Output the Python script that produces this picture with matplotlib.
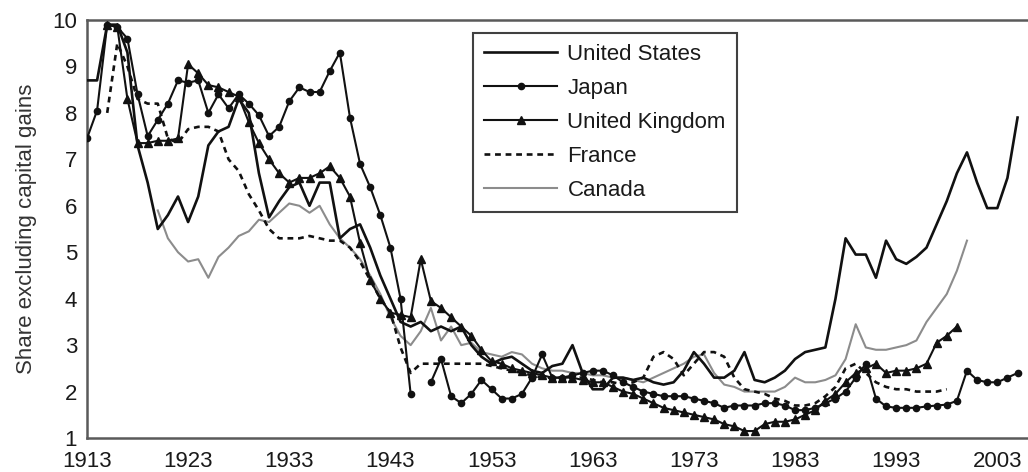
import numpy as np
import matplotlib
matplotlib.use("Agg")
import matplotlib.pyplot as plt

plt.rcParams['font.family'] = ['Liberation Sans', 'DejaVu Sans']

nan = np.nan

# ---- data (top 0.1% income share, %) ----
us_years = np.arange(1913, 2006)
us_vals = [8.7, 8.7, 9.9, 9.9, 9.3, 7.3, 6.5, 5.5, 5.8, 6.2,
           5.65, 6.2, 7.3, 7.6, 7.7, 8.3, 8.0, 6.7, 5.75, 6.1,
           6.4, 6.5, 6.0, 6.5, 6.5, 5.3, 5.5, 5.6, 5.1, 4.5,
           4.0, 3.5, 3.4, 3.5, 3.3, 3.4, 3.3, 3.4, 3.0, 2.75,
           2.6, 2.7, 2.75, 2.6, 2.45, 2.4, 2.55, 2.6, 3.0, 2.4,
           2.05, 2.05, 2.3, 2.3, 2.25, 2.3, 2.2, 2.15, 2.2, 2.45,
           2.85, 2.6, 2.3, 2.3, 2.45, 2.85, 2.25, 2.2, 2.3, 2.45,
           2.7, 2.85, 2.9, 2.95, 4.0, 5.3, 4.95, 4.95, 4.45, 5.25,
           4.85, 4.75, 4.9, 5.1, 5.6, 6.1, 6.7, 7.15, 6.5, 5.95,
           5.95, 6.6, 7.9]

japan_years = np.arange(1913, 2006)
japan_vals = [7.45, 8.05, 9.9, 9.85, 9.6, 8.4, 7.5, 7.85, 8.2, 8.7,
              8.65, 8.7, 8.0, 8.4, 8.1, 8.4, 8.2, 7.95, 7.5, 7.7,
              8.25, 8.55, 8.45, 8.45, 8.9, 9.3, 7.9, 6.9, 6.4, 5.8,
              5.1, 4.0, 1.95, nan, 2.2, 2.7, 1.9, 1.75, 1.95, 2.25,
              2.05, 1.85, 1.85, 1.95, 2.3, 2.8, 2.3, 2.3, 2.35, 2.4,
              2.45, 2.45, 2.35, 2.2, 2.1, 2.0, 1.95, 1.9, 1.9, 1.9,
              1.85, 1.8, 1.75, 1.65, 1.7, 1.7, 1.7, 1.75, 1.75, 1.7,
              1.6, 1.6, 1.65, 1.75, 1.85, 2.0, 2.3, 2.6, 1.85, 1.68,
              1.65, 1.65, 1.65, 1.68, 1.7, 1.72, 1.8, 2.45, 2.25, 2.2,
              2.2, 2.3, 2.4]

uk_years = np.arange(1915, 2000)
uk_vals = [9.9, 9.85, 8.3, 7.35, 7.35, 7.4, 7.4, 7.45,
           9.05, 8.85, 8.6, 8.55, 8.45, 8.35, 7.8, 7.35, 7.0, 6.7,
           6.5, 6.6, 6.6, 6.7, 6.85, 6.6, 6.2, 5.2, 4.4, 4.0,
           3.7, 3.65, 3.6, 4.85, 3.95, 3.8, 3.6, 3.4, 3.2, 2.9,
           2.65, 2.6, 2.5, 2.45, 2.4, 2.35, 2.3, 2.3, 2.3, 2.25,
           2.2, 2.2, 2.1, 2.0, 1.95, 1.85, 1.75, 1.65, 1.6, 1.55,
           1.5, 1.45, 1.4, 1.3, 1.25, 1.15, 1.15, 1.3, 1.35, 1.35,
           1.4, 1.5, 1.6, 1.8, 1.95, 2.2, 2.4, 2.5, 2.6, 2.4,
           2.45, 2.45, 2.5, 2.6, 3.05, 3.2, 3.4]

france_years = np.arange(1915, 1999)
france_vals = [8.0, 9.5, 9.0, 8.3, 8.2, 8.2, 7.45, 7.35,
               7.65, 7.7, 7.7, 7.6, 7.0, 6.75, 6.25, 5.9, 5.5, 5.3,
               5.3, 5.3, 5.35, 5.3, 5.25, 5.25, 5.1, 4.8, 4.4, 4.0,
               3.7, 2.95, 2.4, 2.6, 2.6, 2.6, 2.6, 2.6, 2.6, 2.6,
               2.55, 2.5, 2.45, 2.4, 2.35, 2.3, 2.3, 2.3, 2.3, 2.3,
               2.25, 2.2, 2.2, 2.15, 2.2, 2.3, 2.75, 2.85, 2.7, 2.35,
               2.6, 2.85, 2.85, 2.75, 2.3, 2.05, 2.0, 1.95, 1.85, 1.8,
               1.7, 1.7, 1.75, 1.9, 2.1, 2.5, 2.6, 2.4, 2.2, 2.1,
               2.05, 2.05, 2.0, 2.0, 2.0, 2.05]

canada_years = np.arange(1920, 2001)
canada_vals = [5.9, 5.3, 5.0,
               4.8, 4.85, 4.45, 4.9, 5.1, 5.35, 5.45, 5.7, 5.65, 5.85,
               6.05, 6.0, 5.85, 6.0, 5.6, 5.3, 5.1, 4.85, 4.5, 4.1,
               3.6, 3.2, 3.0, 3.3, 3.8, 3.1, 3.4, 3.0, 3.05, 2.85,
               2.8, 2.75, 2.85, 2.8, 2.6, 2.5, 2.45, 2.45, 2.4, 2.4,
               2.35, 2.35, 2.3, 2.3, 2.25, 2.2, 2.3, 2.4, 2.5, 2.6,
               2.75, 2.8, 2.4, 2.15, 2.1, 2.0, 2.0, 2.0, 2.0, 2.1,
               2.3, 2.2, 2.2, 2.25, 2.35, 2.7, 3.45, 2.95, 2.9, 2.9,
               2.95, 3.0, 3.1, 3.5, 3.8, 4.1, 4.6, 5.25]

xticks = [1913, 1923, 1933, 1943, 1953, 1963, 1973, 1983, 1993, 2003]
yticks = [1, 2, 3, 4, 5, 6, 7, 8, 9, 10]

# ---- figure ----
fig = plt.figure(figsize=(10.28, 4.72), dpi=100)
ax = fig.add_axes([0.0846, 0.072, 0.92, 0.8856])

ax.plot(canada_years, canada_vals, color='#8c8c8c', lw=1.5, label='Canada', zorder=2)
ax.plot(france_years, france_vals, color='#111111', lw=1.9, ls=(0, (2.2, 1.8)),
        label='France', zorder=3)
ax.plot(us_years, us_vals, color='#111111', lw=1.9, label='United States', zorder=4)
ax.plot(japan_years, japan_vals, color='#111111', lw=1.5, marker='o', ms=4.5,
        label='Japan', zorder=5)
ax.plot(uk_years, uk_vals, color='#111111', lw=1.5, marker='^', ms=5.8,
        label='United Kingdom', zorder=5)

ax.set_xlim(1913, 2006.5)
ax.set_ylim(1, 10)
ax.set_xticks(xticks)
ax.set_yticks(yticks)
ax.tick_params(length=0, labelsize=16, colors='#1a1a1a')
ax.tick_params(axis='x', pad=9)
ax.tick_params(axis='y', pad=7)
ax.set_ylabel('Share excluding capital gains', fontsize=16, color='#333333', labelpad=11)

for side in ['left', 'bottom', 'top']:
    ax.spines[side].set_color('#5a5a5a')
    ax.spines[side].set_linewidth(1.8)
ax.spines['right'].set_visible(False)

# legend in the order of the reference
handles, labels = ax.get_legend_handles_labels()
order = ['United States', 'Japan', 'United Kingdom', 'France', 'Canada']
hmap = dict(zip(labels, handles))
leg = ax.legend([hmap[k] for k in order], order, loc='upper left',
                bbox_to_anchor=(473 / 1028, 1 - 33 / 472), bbox_transform=fig.transFigure,
                fontsize=16, frameon=True, fancybox=False, handlelength=3.3,
                handletextpad=0.45, labelspacing=0.58, borderpad=0.5,
                borderaxespad=0)
leg.get_frame().set_edgecolor('#111111')
leg.get_frame().set_linewidth(1.5)
for t in leg.get_texts():
    t.set_color('#1a1a1a')

fig.savefig('out.png', dpi=100)
